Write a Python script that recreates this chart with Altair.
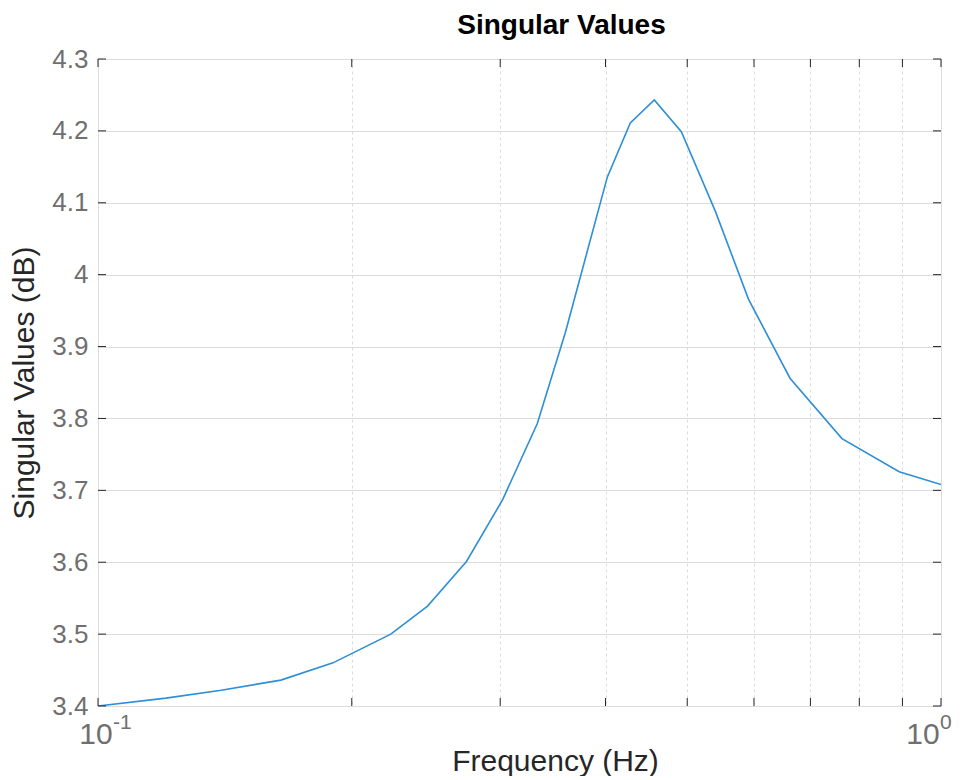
import altair as alt
import pandas as pd

# Data
freq = [0.1, 0.1204, 0.140, 0.1648, 0.190, 0.2225, 0.246, 0.2736, 0.302, 0.332,
        0.3585, 0.402, 0.428, 0.457, 0.492, 0.540, 0.591, 0.662, 0.763, 0.892, 1.0]
sv_db = [3.400, 3.411, 3.422, 3.436, 3.460, 3.500, 3.539, 3.601, 3.687, 3.793,
         3.920, 4.136, 4.211, 4.243, 4.199, 4.088, 3.966, 3.856, 3.772, 3.726, 3.708]
x_ticks = [0.1, 0.2, 0.3, 0.4, 0.5, 0.6, 0.7, 0.8, 0.9, 1.0]
y_ticks = [3.4, 3.5, 3.6, 3.7, 3.8, 3.9, 4.0, 4.1, 4.2, 4.3]
decade_vals = [0.1, 1.0]
decade_base = ["10", "10"]
decade_exp = ["-1", "0"]

W, H = 843, 647
FONT = "Liberation Sans"
AX = "#262626"
LBL = "#6f6f6f"

df = pd.DataFrame({"f": freq, "sv": sv_db})
xt = pd.DataFrame({"x": x_ticks})
yt = pd.DataFrame({"y": y_ticks})
dec = pd.DataFrame({"x": decade_vals, "base": decade_base, "exp": decade_exp})

xscale = alt.Scale(type="log", domain=[0.1, 1.0], nice=False)
yscale = alt.Scale(domain=[3.4, 4.3], nice=False, zero=False)

line = alt.Chart(df).mark_line(color="#2e8ed6", strokeWidth=1.6, clip=True).encode(
    x=alt.X("f:Q", scale=xscale, title="Frequency (Hz)",
            axis=alt.Axis(values=x_ticks, labels=False,
                          grid=True, gridDash=[3, 3], gridColor="#dcdcdc", gridWidth=1,
                          domain=False, ticks=False,
                          titleFont=FONT, titleFontSize=30, titleColor=AX,
                          titleFontWeight="normal", titlePadding=40, titleX=457)),
    y=alt.Y("sv:Q", scale=yscale, title="Singular Values (dB)",
            axis=alt.Axis(values=y_ticks,
                          labelExpr="datum.value == 4 ? '4' : format(datum.value, '.1f')",
                          grid=True, gridColor="#dcdcdc", gridWidth=1,
                          domain=False, ticks=False, labelFontSize=26, labelColor=LBL,
                          labelFont=FONT, labelPadding=10, titleFont=FONT, titleFontSize=30,
                          titleColor=AX, titleFontWeight="normal", titlePadding=12,
                          labelOverlap=False)),
)

tick_len = 8
xt_bot = alt.Chart(xt).mark_rule(color=AX, strokeWidth=1).encode(
    x=alt.X("x:Q", scale=xscale), y=alt.value(H - tick_len), y2=alt.value(H))
xt_top = alt.Chart(xt).mark_rule(color=AX, strokeWidth=1).encode(
    x=alt.X("x:Q", scale=xscale), y=alt.value(0), y2=alt.value(tick_len))
yt_left = alt.Chart(yt).mark_rule(color=AX, strokeWidth=1).encode(
    y=alt.Y("y:Q", scale=yscale), x=alt.value(0), x2=alt.value(tick_len))
yt_right = alt.Chart(yt).mark_rule(color=AX, strokeWidth=1).encode(
    y=alt.Y("y:Q", scale=yscale), x=alt.value(W - tick_len), x2=alt.value(W))

# decade labels 10^-1 and 10^0 (base + superscript)
lo = dec[dec["x"] == 0.1]
hi = dec[dec["x"] == 1.0]
base_lo = alt.Chart(lo).mark_text(font=FONT, fontSize=30, color=LBL, align="center",
                                  baseline="alphabetic", dx=-2).encode(
    x=alt.X("x:Q", scale=xscale), y=alt.value(H + 38), text="base:N")
exp_lo = alt.Chart(lo).mark_text(font=FONT, fontSize=21, color=LBL, align="left",
                                 baseline="alphabetic", dx=15).encode(
    x=alt.X("x:Q", scale=xscale), y=alt.value(H + 23), text="exp:N")
base_hi = alt.Chart(hi).mark_text(font=FONT, fontSize=30, color=LBL, align="center",
                                  baseline="alphabetic", dx=-18).encode(
    x=alt.X("x:Q", scale=xscale), y=alt.value(H + 38), text="base:N")
exp_hi = alt.Chart(hi).mark_text(font=FONT, fontSize=21, color=LBL, align="left",
                                 baseline="alphabetic", dx=-1).encode(
    x=alt.X("x:Q", scale=xscale), y=alt.value(H + 23), text="exp:N")

chart = alt.layer(line, xt_bot, xt_top, yt_left, yt_right,
                  base_lo, exp_lo, base_hi, exp_hi).properties(
    width=W, height=H,
    autosize=alt.AutoSizeParams(type="none"),
    padding={"left": 90, "top": 51, "right": 16, "bottom": 70},
    title=alt.TitleParams("Singular Values", font=FONT, fontSize=28, fontWeight="bold",
                          color="#000000", anchor="middle", dx=42, offset=6),
).configure_view(stroke=AX, strokeWidth=1.2).configure(background="white")

chart.save("out.html", embed_options={"renderer": "svg", "actions": False})
